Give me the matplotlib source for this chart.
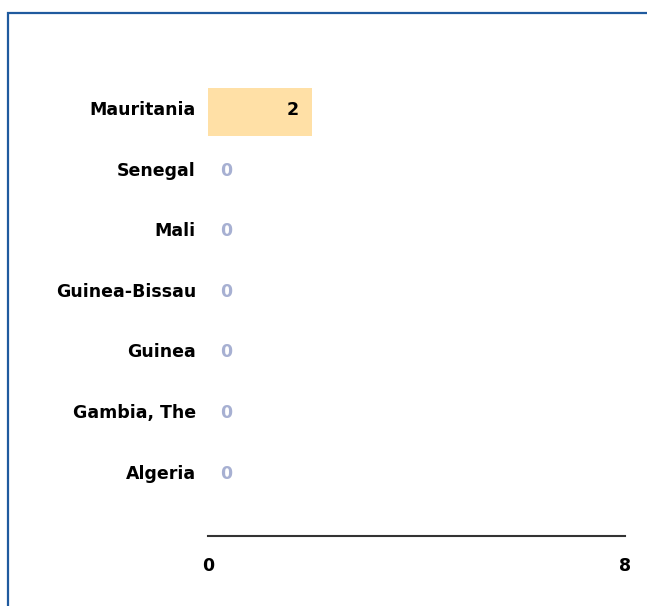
import matplotlib.pyplot as plt
import matplotlib.transforms as mtransforms
from matplotlib.patches import Rectangle

countries = ["Mauritania", "Senegal", "Mali", "Guinea-Bissau", "Guinea", "Gambia, The", "Algeria"]
values = [2, 0, 0, 0, 0, 0, 0]
xticks = [0, 8]

fig = plt.figure(figsize=(6.47, 6.06), dpi=100)

# outer blue frame (only top/left visible in the reference)
fig.patches.append(Rectangle((8 / 647, -0.1), 1.1, (606 - 13) / 606 + 0.1,
                             transform=fig.transFigure, fill=False,
                             edgecolor="#1f5a9e", linewidth=1.6))

ax = fig.add_axes([208 / 647, (606 - 536) / 606, (625 - 208) / 647, (536 - 21) / 606])

pos = list(range(len(countries) - 1, -1, -1))
ax.barh(pos, values, height=0.78, color="#ffe0a6")

fs = 12.5
for y, v in zip(pos, values):
    if v > 0:
        ax.text(v - 0.26, y + 0.03, str(v), ha="right", va="center",
                fontsize=fs, fontweight="bold", color="black")
    else:
        ax.text(0.24, y + 0.03, str(v), ha="left", va="center",
                fontsize=fs, fontweight="bold", color="#a7b0d2")

# category labels, drawn as text left of the axis
lab_tr = mtransforms.offset_copy(ax.get_yaxis_transform(), fig=fig, x=-12, y=0, units="dots")
for y, name in zip(pos, countries):
    ax.text(0, y + 0.03, name, transform=lab_tr, ha="right", va="center",
            fontsize=fs, fontweight="bold", color="black")

ax.set_xlim(0, 8)
ax.set_ylim(-1, 7.5)
ax.set_yticks([])
ax.set_xticks(xticks)
ax.set_xticklabels([str(t) for t in xticks], fontsize=fs, fontweight="bold")
ax.tick_params(axis="x", length=0, pad=15)
for s in ["top", "right", "left"]:
    ax.spines[s].set_visible(False)
ax.spines["bottom"].set_color("#333333")
ax.spines["bottom"].set_linewidth(1.5)

fig.savefig("out.png", dpi=100)
